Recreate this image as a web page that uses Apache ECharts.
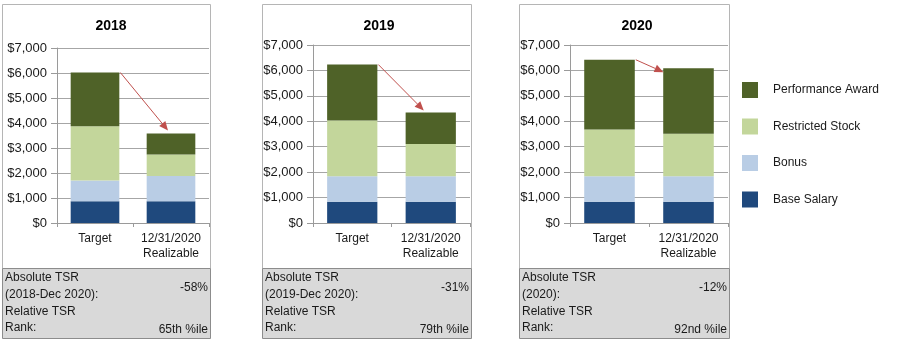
<!DOCTYPE html>
<html>
<head>
<meta charset="utf-8">
<script src="https://cdn.jsdelivr.net/npm/echarts@6/dist/echarts.min.js"></script>
<style>
html,body{margin:0;padding:0;background:#fff;}
#chart{width:911px;height:341px;}
</style>
</head>
<body>
<div id="chart"></div>
<script>
// ---- data ----
const categories = ['Target', '12/31/2020\nRealizable'];
const panelTitles = ['2018', '2019', '2020'];
const seriesNames = ['Base Salary', 'Bonus', 'Restricted Stock', 'Performance Award'];
const baseSalary       = [[870, 870], [840, 840], [840, 840]];
const bonus            = [[830, 1010], [1000, 1000], [1000, 1000]];
const restrictedStock  = [[2170, 860], [2190, 1270], [1840, 1670]];
const performanceAward = [[2150, 840], [2200, 1240], [2740, 2580]];
const yTicks = [0, 1000, 2000, 3000, 4000, 5000, 6000, 7000];
const tsrLabel1 = ['Absolute TSR', 'Absolute TSR', 'Absolute TSR'];
const tsrPeriods = ['(2018-Dec 2020):', '(2019-Dec 2020):', '(2020):'];
const tsrLabel2 = ['Relative TSR', 'Relative TSR', 'Relative TSR'];
const tsrLabel3 = ['Rank:', 'Rank:', 'Rank:'];
const absoluteTSR = ['-58%', '-31%', '-12%'];
const relativeRank = ['65th %ile', '79th %ile', '92nd %ile'];

// ---- styles / layout ----
const FONT = '"Liberation Sans", Arial, sans-serif';
const colors = {
  'Base Salary': '#1f497d',
  'Bonus': '#b9cde5',
  'Restricted Stock': '#c3d69b',
  'Performance Award': '#4f6228'
};
const panels = [
  {box: [2, 4, 210, 268], grid: {left: 57, right: 911 - 209, top: 48, bottom: 341 - 223}, titleX: 106, arrowDx: -3, arrowDy: -3},
  {box: [262, 4, 471, 268], grid: {left: 313, right: 911 - 470, top: 45, bottom: 341 - 223}, titleX: 374, arrowDx: -7, arrowDy: -2},
  {box: [519, 4, 729, 268], grid: {left: 570, right: 911 - 728, top: 45, bottom: 341 - 223}, titleX: 632, arrowDx: -25, arrowDy: 4}
];
const seriesData = [baseSalary, bonus, restrictedStock, performanceAward];

const chart = echarts.init(document.getElementById('chart'), null, {renderer: 'canvas'});

const grids = [], xAxes = [], yAxes = [], series = [], titles = [];
panels.forEach((p, i) => {
  grids.push(Object.assign({containLabel: false}, p.grid));
  titles.push({
    text: panelTitles[i], left: p.titleX, top: 14, textAlign: 'center',
    textStyle: {fontFamily: FONT, fontSize: 14, fontWeight: 'bold', color: '#000'}
  });
  xAxes.push({
    type: 'category', gridIndex: i, data: categories,
    axisLine: {lineStyle: {color: '#9a9a9a'}},
    axisTick: {show: true, length: 4, lineStyle: {color: '#9a9a9a'}},
    axisLabel: {fontFamily: FONT, fontSize: 12, color: '#1a1a1a', lineHeight: 15, margin: 8, interval: 0}
  });
  yAxes.push({
    type: 'value', gridIndex: i, min: yTicks[0], max: yTicks[yTicks.length - 1], interval: yTicks[1] - yTicks[0],
    axisLine: {show: true, lineStyle: {color: '#9a9a9a'}},
    axisTick: {show: true, length: 6, lineStyle: {color: '#9a9a9a'}},
    splitLine: {lineStyle: {color: '#a6a6a6'}},
    axisLabel: {fontFamily: FONT, fontSize: 13, color: '#1a1a1a', margin: 10,
      formatter: v => '$' + v.toLocaleString('en-US')}
  });
  seriesNames.forEach((name, k) => {
    series.push({
      name: name, type: 'bar', stack: 'p' + i, xAxisIndex: i, yAxisIndex: i,
      barWidth: '64%', itemStyle: {color: colors[name]},
      data: seriesData[k][i], animation: false
    });
  });
});

chart.setOption({
  animation: false,
  backgroundColor: '#fff',
  title: titles,
  grid: grids, xAxis: xAxes, yAxis: yAxes, series: series,
  legend: {
    orient: 'vertical', left: 742, top: 82, padding: 0,
    itemWidth: 16, itemHeight: 16, itemGap: 20.5, icon: 'rect',
    data: ['Performance Award', 'Restricted Stock', 'Bonus', 'Base Salary'],
    textStyle: {fontFamily: FONT, fontSize: 12, color: '#1a1a1a', padding: [0, 0, 0, 10]},
    selectedMode: false
  }
});

// ---- graphic: boxes, tables, arrows ----
const graphics = [];
panels.forEach((p, i) => {
  const [x0, y0, x1, y1] = p.box;
  graphics.push({type: 'rect', shape: {x: x0 + 0.5, y: y0 + 0.5, width: x1 - x0, height: y1 - y0},
    style: {fill: 'none', stroke: '#b5b5b5', lineWidth: 1}, silent: true});
  graphics.push({type: 'rect', shape: {x: x0 + 0.5, y: y1 + 0.5, width: x1 - x0, height: 70},
    style: {fill: '#d9d9d9', stroke: '#8c8c8c', lineWidth: 1}, silent: true});
  const ts = {fontFamily: FONT, fontSize: 12, fill: '#1a1a1a', textVerticalAlign: 'middle'};
  const lx = x0 + 3, rx = x1 - 2;
  graphics.push({type: 'text', x: lx, y: 278, style: Object.assign({text: tsrLabel1[i], textAlign: 'left'}, ts)});
  graphics.push({type: 'text', x: lx, y: 295, style: Object.assign({text: tsrPeriods[i], textAlign: 'left'}, ts)});
  graphics.push({type: 'text', x: lx, y: 312, style: Object.assign({text: tsrLabel2[i], textAlign: 'left'}, ts)});
  graphics.push({type: 'text', x: lx, y: 328, style: Object.assign({text: tsrLabel3[i], textAlign: 'left'}, ts)});
  graphics.push({type: 'text', x: rx, y: 288, style: Object.assign({text: absoluteTSR[i], textAlign: 'right'}, ts)});
  graphics.push({type: 'text', x: rx, y: 330, style: Object.assign({text: relativeRank[i], textAlign: 'right'}, ts)});

  // arrow from top of Target stack to top of Realizable stack
  const totT = seriesData.reduce((s, arr) => s + arr[i][0], 0);
  const totR = seriesData.reduce((s, arr) => s + arr[i][1], 0);
  const pT = chart.convertToPixel({gridIndex: i}, [0, totT]);
  const pR = chart.convertToPixel({gridIndex: i}, [1, totR]);
  const band = pR[0] - pT[0];
  const half = band * 0.32;
  const sx = pT[0] + half + 1, sy = pT[1];
  const ex = pR[0] + p.arrowDx, ey = pR[1] + p.arrowDy;
  const ang = Math.atan2(ey - sy, ex - sx);
  const L = 9, W = 4;
  const bx = ex - L * Math.cos(ang), by = ey - L * Math.sin(ang);
  graphics.push({type: 'line', shape: {x1: sx, y1: sy, x2: bx, y2: by},
    style: {stroke: '#c0504d', lineWidth: 1}, silent: true, z: 10});
  graphics.push({type: 'polygon', shape: {points: [
      [ex, ey],
      [bx + W * Math.sin(ang), by - W * Math.cos(ang)],
      [bx - W * Math.sin(ang), by + W * Math.cos(ang)]
    ]}, style: {fill: '#c0504d'}, silent: true, z: 10});
});
chart.setOption({graphic: graphics});
</script>
</body>
</html>
